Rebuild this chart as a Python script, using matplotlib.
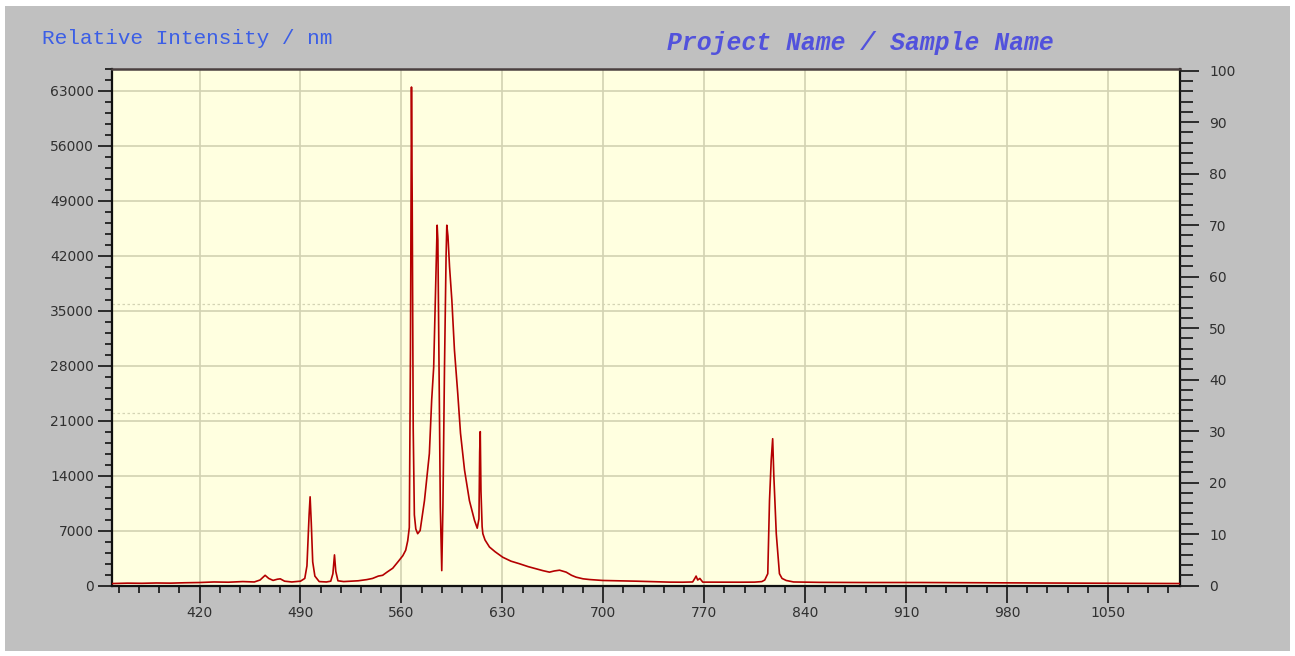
import matplotlib
matplotlib.use("Agg")
import matplotlib.pyplot as plt
from matplotlib.patches import Rectangle
from matplotlib.ticker import MultipleLocator, FixedLocator

# ---- data ----
wavelength_nm = [
    359.5, 370, 380, 390, 400, 410, 420, 430, 440, 450, 458, 462, 465.5, 468, 471,
    474, 476, 479, 484, 490, 493, 494.5, 496, 496.7, 497.5, 498.5, 500, 503, 508,
    511, 512.5, 513.6, 514.5, 516, 520, 530, 536, 540, 544, 547, 550, 554, 558,
    561, 563, 564.4, 565.5, 566.3, 567.0, 567.5, 568.2, 569, 570, 571.3, 573, 576,
    579.4, 581, 582.4, 583.4, 584.3, 584.8, 585.3, 586, 587, 588, 588.8, 589.9,
    591, 591.5, 592.3, 593.4, 595, 596.8, 599.1, 601, 603.8, 607.2, 610.7, 612.6,
    613.8, 614.3, 614.7, 615.2, 616.0, 616.5, 618, 621.1, 625, 630.3, 636, 641.9,
    648, 653.5, 658, 662.7, 666, 669.7, 674.3, 678, 681.2, 686, 690.5, 699.7, 710,
    722.8, 735, 745.9, 755, 762, 763.5, 764.4, 765.5, 767, 769, 780, 795, 805, 810,
    812, 814.1, 815.3, 816.5, 817.5, 818.3, 820, 822.2, 824, 826.9, 832, 850, 880,
    920, 960, 1000, 1040, 1070, 1100,
]
intensity = [
    250, 300, 280, 320, 300, 350, 380, 450, 420, 500, 450, 700, 1300, 900, 650,
    800, 850, 550, 450, 550, 900, 2500, 9000, 11300, 8000, 3000, 1200, 500, 450,
    550, 1500, 3900, 1800, 600, 500, 600, 750, 900, 1200, 1300, 1700, 2200, 3100,
    3800, 4500, 5700, 7400, 30000, 63500, 49000, 20000, 9000, 7200, 6600, 7000, 10800,
    16800, 23600, 27800, 35500, 42700, 45900, 44000, 30000, 10000, 1900, 10000, 27800,
    42000, 45900, 44500, 40600, 36350, 30000, 24450, 19400, 14700, 10800, 8300, 7300,
    8500, 17000, 19600, 12000, 7500, 6600, 5800, 4900, 4300, 3600, 3100, 2770,
    2400, 2130, 1900, 1700, 1850, 1950, 1700, 1300, 1060, 850, 760, 640, 600,
    550, 480, 430, 420, 450, 900, 1200, 700, 900, 430, 420, 420, 430, 500,
    700, 1500, 10800, 16000, 18700, 14000, 6600, 1500, 900, 640, 450, 400, 380,
    380, 350, 330, 300, 280, 250,
]

x_major_ticks = [420, 490, 560, 630, 700, 770, 840, 910, 980, 1050]
y_left_ticks = [0, 7000, 14000, 21000, 28000, 35000, 42000, 49000, 56000, 63000]
y_right_ticks = [0, 10, 20, 30, 40, 50, 60, 70, 80, 90, 100]

left_title = "Relative Intensity / nm"
right_title = "Project Name / Sample Name"

# ---- figure ----
W, H = 1295, 656
fig = plt.figure(figsize=(W / 100, H / 100), dpi=100, facecolor="white")
fig.patches.append(Rectangle((5 / W, 5 / H), (W - 10) / W, (H - 11) / H,
                             transform=fig.transFigure, facecolor="#c0c0c0",
                             edgecolor="none", zorder=-10))

ax = fig.add_axes([112 / W, 1 - 585.5 / H, (1180 - 112) / W, (585.5 - 69) / H])
ax.set_facecolor("#ffffe0")

ax.plot(wavelength_nm, intensity, color="#b40000", lw=1.2, zorder=3)

ax.set_xlim(359.3, 1100)
ax.set_ylim(0, 65800)

grid_col = "#d2d2b2"
for xv in x_major_ticks:
    ax.axvline(xv, color=grid_col, lw=1.2, zorder=1)
for yv in y_left_ticks[1:]:
    ax.axhline(yv, color=grid_col, lw=1.2, zorder=1)
for yv in (35900, 22000):
    ax.axhline(yv, color="#d4d4b4", lw=0.9, ls=(0, (2, 2)), zorder=1)

ax.xaxis.set_major_locator(FixedLocator(x_major_ticks))
ax.xaxis.set_minor_locator(MultipleLocator(14))
ax.yaxis.set_major_locator(FixedLocator(y_left_ticks))
ax.yaxis.set_minor_locator(MultipleLocator(1400))

tick_font = dict(family="DejaVu Sans", size=10)
ax.tick_params(axis="both", which="major", direction="out", length=9, width=1.3,
               color="#202020", labelcolor="#303030", labelsize=10)
ax.tick_params(axis="both", which="minor", direction="out", length=5, width=1.3,
               color="#202020")
ax.tick_params(axis="x", which="major", pad=3, length=12)
ax.tick_params(axis="y", which="major", pad=3, length=10)
ax.tick_params(axis="y", which="minor", length=5)
ax.set_xticklabels([str(v) for v in x_major_ticks], **tick_font)
ax.set_yticklabels([str(v) for v in y_left_ticks], **tick_font)

for side in ("left", "bottom", "right"):
    ax.spines[side].set_color("#101010")
    ax.spines[side].set_linewidth(1.6)
ax.spines["top"].set_color("#4a4040")
ax.spines["top"].set_linewidth(1.8)

ax2 = ax.twinx()
ax2.set_ylim(0, 100.33)
ax2.yaxis.set_major_locator(FixedLocator(y_right_ticks))
ax2.yaxis.set_minor_locator(MultipleLocator(2))
ax2.tick_params(axis="y", which="major", direction="out", length=14, width=1.3,
                color="#202020", labelcolor="#303030", labelsize=10, pad=7)
ax2.tick_params(axis="y", which="minor", direction="out", length=9, width=1.3,
                color="#202020")
ax2.set_yticklabels([str(v) for v in y_right_ticks], **tick_font)
for s in ax2.spines.values():
    s.set_visible(False)

fig.text(42 / W, 1 - 39 / H, left_title, family="Liberation Mono", size=15.2,
         color="#3b5ee6", ha="left", va="center")
fig.text(860 / W, 1 - 43 / H, right_title, family="Liberation Mono", size=17.8,
         weight="bold", style="italic", color="#5252dc", ha="center", va="center")

fig.savefig("out.png", dpi=100, facecolor=fig.get_facecolor())
